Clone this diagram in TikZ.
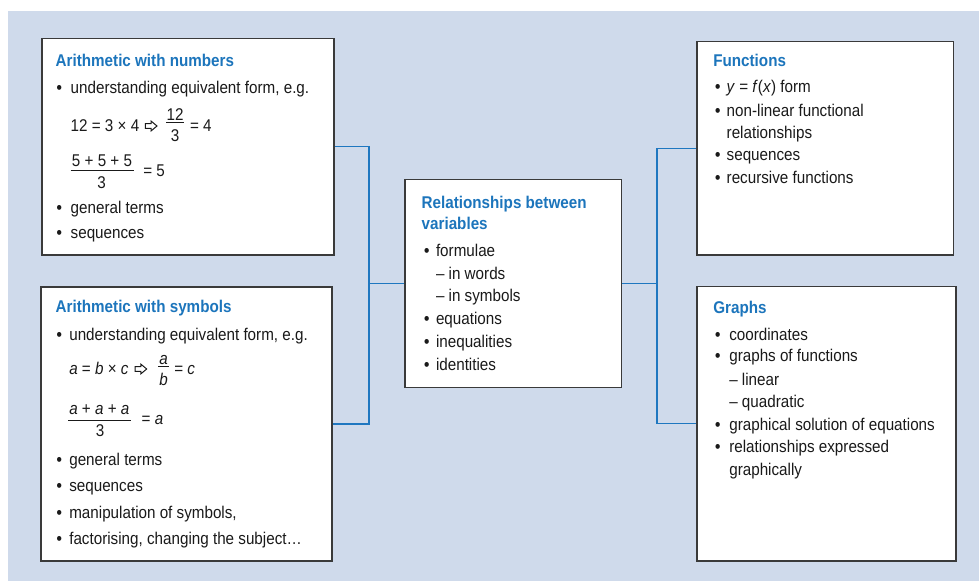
\documentclass[tikz,border=0pt]{standalone}
\usepackage{fontspec}
\setmainfont{Liberation Sans}[FakeStretch=0.895]
\definecolor{bgblue}{HTML}{CFDAEB}
\definecolor{titleblue}{HTML}{1C75BC}
\definecolor{connblue}{HTML}{1F77C0}
\definecolor{boxgray}{HTML}{3A3A3A}
\definecolor{textblack}{HTML}{1A1A1A}
\newcommand\bodyfont{\fontsize{17}{20}\selectfont}
\newcommand\bl[1]{\llap{\makebox[#1pt][l]{\bfseries•}}}
\tikzset{
  box/.style={draw=boxgray, line width=1.3pt, fill=white, inner sep=0pt},
  txt/.style={anchor=base west, inner sep=0pt, outer sep=0pt, font=\bodyfont, text=textblack},
  mid/.style={anchor=base, inner sep=0pt, outer sep=0pt, font=\bodyfont, text=textblack},
  ttl/.style={anchor=base west, inner sep=0pt, outer sep=0pt, font=\bodyfont\bfseries, text=titleblue},
  outarrow/.style={draw=textblack, line width=1pt, line join=miter, fill=white},
  fracbar/.style={draw=textblack, line width=0.9pt},
  conn/.style={draw=connblue, line width=1.2pt}
}
% outlined arrow: left x, centre y
\newcommand\outarr[2]{%
  \draw[outarrow] (#1,#2-2.3) -- ++(5.8,0) -- ++(0,-2.6) -- ++(5.9,4.9)
     -- ++(-5.9,4.9) -- ++(0,-2.6) -- ++(-5.8,0) -- cycle;}
\begin{document}
\begin{tikzpicture}[x=1pt,y=-1pt]
\useasboundingbox (0,0) rectangle (979,581);
\fill[bgblue] (7.5,11) rectangle (979,581);

% boxes
\node[box, minimum width=292pt, minimum height=216.5pt] (A) at (188,146.75) {};
\node[box, minimum width=291pt, minimum height=274pt] (B) at (186.5,424) {};
\node[box, minimum width=216.5pt, minimum height=208pt] (C) at (513.25,283.3) {};
\node[box, minimum width=256.5pt, minimum height=213.3pt] (F) at (825.25,148.35) {};
\node[box, minimum width=259pt, minimum height=274.3pt] (G) at (826.5,423.85) {};

% connectors
\coordinate (jl) at (369,0);
\coordinate (jr) at (657,0);
\draw[conn] (A.east) -- (A.east -| jl) -- (B.east -| jl) -- (B.east);
\draw[conn] (C.west) -- (C.west -| jl);
\draw[conn] (F.west) -- (F.west -| jr) -- (G.west -| jr) -- (G.west);
\draw[conn] (C.east) -- (C.east -| jr);

% Arithmetic with numbers
\node[ttl] (a0) at (55.7,66.7) {Arithmetic with numbers};
\node[txt] (a1) at (70.7,93.3) {\bl{14}understanding equivalent form, e.g.};
\node[txt] (a2) at (70.7,131) {12 = 3 × 4};
\outarr{145.3}{126}
\node[mid] (a4) at (175,120) {12};
\draw[fracbar] (166,122) -- (184,122);
\node[mid] (a5) at (175,141.7) {3};
\node[txt] (a6) at (190,131) {= 4};
\node[mid] (a7) at (102,166.7) {5 + 5 + 5};
\draw[fracbar] (70.7,170.7) -- (134.3,170.7);
\node[mid] (a8) at (101.7,188.3) {3};
\node[txt] (a9) at (143.3,176.7) {= 5};
\node[txt] (a10) at (70.7,213.3) {\bl{14}general terms};
\node[txt] (a11) at (70.7,238.3) {\bl{14}sequences};

% Arithmetic with symbols
\node[ttl] (b0) at (55.7,312.3) {Arithmetic with symbols};
\node[txt] (b1) at (69.3,340) {\bl{12.6}understanding equivalent form, e.g.};
\node[txt] (b2) at (69.3,374.3) {\textit{a} = \textit{b} × \textit{c}};
\outarr{135}{369}
\node[mid] (b4) at (163.5,364.3) {\textit{a}};
\draw[fracbar] (158.3,366.7) -- (169,366.7);
\node[mid] (b5) at (163.5,385.7) {\textit{b}};
\node[txt] (b6) at (174.3,374.3) {= \textit{c}};
\node[mid] (b7) at (99.3,414.3) {\textit{a} + \textit{a} + \textit{a}};
\draw[fracbar] (68.3,420) -- (130.7,420);
\node[mid] (b8) at (100.2,436.7) {3};
\node[txt] (b9) at (141.7,424.3) {= \textit{a}};
\node[txt] (b10) at (69.3,465) {\bl{12.6}general terms};
\node[txt] (b11) at (69.3,491.7) {\bl{12.6}sequences};
\node[txt] (b12) at (69.3,518.3) {\bl{12.6}manipulation of symbols,};
\node[txt] (b13) at (69.3,544.3) {\bl{12.6}factorising, changing the subject…};

% Relationships between variables
\node[ttl] (c0) at (421.7,208.3) {Relationships between};
\node[ttl] (c1) at (421.7,229.3) {variables};
\node[txt] (c2) at (436,256.7) {\bl{12}formulae};
\node[txt] (c3) at (436,279.3) {– in words};
\node[txt] (c4) at (436,301.7) {– in symbols};
\node[txt] (c5) at (436,324.3) {\bl{12}equations};
\node[txt] (c6) at (436,347.3) {\bl{12}inequalities};
\node[txt] (c7) at (436,370) {\bl{12}identities};

% Functions
\node[ttl] (f0) at (713.3,66.7) {Functions};
\node[txt] (f1) at (726.7,92.7) {\bl{11.7}\textit{y} = \textit{f}(\textit{x}) form};
\node[txt] (f2) at (726.7,116) {\bl{11.7}non-linear functional};
\node[txt] (f3) at (726.7,138.3) {relationships};
\node[txt] (f4) at (726.7,160.7) {\bl{11.7}sequences};
\node[txt] (f5) at (726.7,183.3) {\bl{11.7}recursive functions};

% Graphs
\node[ttl] (g0) at (713.3,313.3) {Graphs};
\node[txt] (g1) at (729.3,340) {\bl{14.3}coordinates};
\node[txt] (g2) at (729.3,361.7) {\bl{14.3}graphs of functions};
\node[txt] (g3) at (729.3,385) {– linear};
\node[txt] (g4) at (729.3,407.7) {– quadratic};
\node[txt] (g5) at (729.3,430) {\bl{14.3}graphical solution of equations};
\node[txt] (g6) at (729.3,452.7) {\bl{14.3}relationships expressed};
\node[txt] (g7) at (729.3,475) {graphically};
\end{tikzpicture}
\end{document}
